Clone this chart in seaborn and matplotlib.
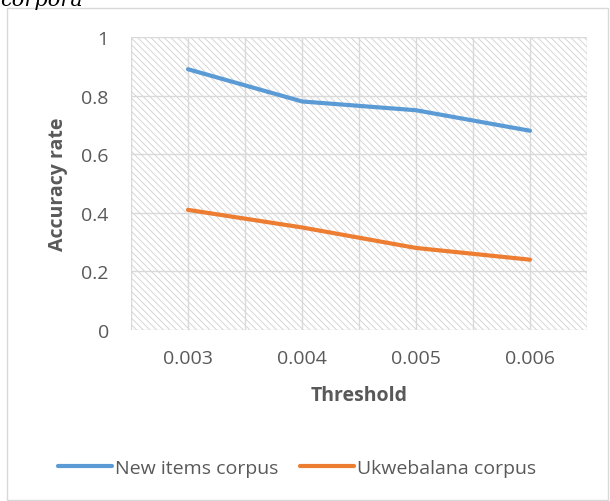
import matplotlib
matplotlib.use("Agg")
import matplotlib.pyplot as plt
import seaborn as sns
import pandas as pd
from matplotlib.patches import Rectangle

thresholds = ["0.003", "0.004", "0.005", "0.006"]
new_items = [0.89, 0.78, 0.75, 0.68]
ukwebalana = [0.41, 0.35, 0.28, 0.24]
series_names = ["New items corpus", "Ukwebalana corpus"]
y_ticks = [0, 0.2, 0.4, 0.6, 0.8, 1.0]
y_tick_labels = ["0", "0.2", "0.4", "0.6", "0.8", "1"]

rows = []
for i, t in enumerate(thresholds):
    rows.append({"idx": i, "Threshold": t, "value": new_items[i], "series": series_names[0]})
    rows.append({"idx": i, "Threshold": t, "value": ukwebalana[i], "series": series_names[1]})
df = pd.DataFrame(rows)

sns.set_style("white")
plt.rcParams["font.family"] = ["Open Sans", "DejaVu Sans"]
plt.rcParams["hatch.linewidth"] = 0.6
plt.rcParams["hatch.color"] = "#d0d0d0"

W, H = 610, 502
fig = plt.figure(figsize=(W / 100, H / 100), dpi=100)
L, T, R, B = 131, 38, 587, 331
ax = fig.add_axes([L / W, 1 - B / H, (R - L) / W, (B - T) / H])

# outer chart border
fig.patches.append(Rectangle((7 / W, 1 / H), (608 - 7) / W, (501 - 9) / H,
                             transform=fig.transFigure, fill=False,
                             edgecolor="#d9d9d9", linewidth=1.0))
fig.text(0.0, 1.0, "corpora", fontsize=15, style="italic", family="DejaVu Serif",
         va="center", ha="left", color="#000000")

# hatched plot area
ax.patch.set_facecolor("white")
bg = Rectangle((0, 0), 1, 1, transform=ax.transAxes, facecolor="white",
               edgecolor="#d0d0d0", hatch="\\" * 5, linewidth=0, zorder=0)
ax.add_patch(bg)

palette = {series_names[0]: "#5b9bd5", series_names[1]: "#ed7d31"}
sns.lineplot(data=df, x="idx", y="value", hue="series", palette=palette,
             linewidth=3.0, ax=ax, legend=True, zorder=3,
             solid_capstyle="round")

ax.set_xlim(-0.5, 3.5)
ax.set_ylim(0, 1)
ax.set_yticks(y_ticks)
ax.set_yticklabels(y_tick_labels)
ax.set_xticks(range(len(thresholds)))
ax.set_xticklabels(thresholds)
ax.set_xticks([-0.5, 0.5, 1.5, 2.5, 3.5], minor=True)
ax.grid(True, which="both", axis="x", color="#d9d9d9", linewidth=1.0, zorder=1)
ax.grid(True, which="major", axis="y", color="#d9d9d9", linewidth=1.0, zorder=1)
ax.set_axisbelow(True)
for s in ax.spines.values():
    s.set_visible(False)
ax.tick_params(axis="both", which="both", length=0, labelsize=14, colors="#595959")
ax.tick_params(axis="x", pad=14)
ax.tick_params(axis="y", pad=16)

ax.set_xlabel("Threshold", fontsize=14, fontweight="bold", color="#595959")
ax.set_ylabel("Accuracy rate", fontsize=14, fontweight="bold", color="#595959")
ax.xaxis.set_label_coords(0.5, -(386 - B) / (B - T))
ax.yaxis.set_label_coords((68 - L) / (R - L), 0.5)

leg = ax.legend(loc="center", bbox_to_anchor=(297 / W, 1 - 469 / H),
                bbox_transform=fig.transFigure, ncol=2, frameon=False,
                fontsize=14, handlelength=2.8, handletextpad=0.15, columnspacing=1.1)
for t in leg.get_texts():
    t.set_color("#595959")
for l in leg.get_lines():
    l.set_linewidth(3.0)

fig.savefig("out.png", dpi=100)
